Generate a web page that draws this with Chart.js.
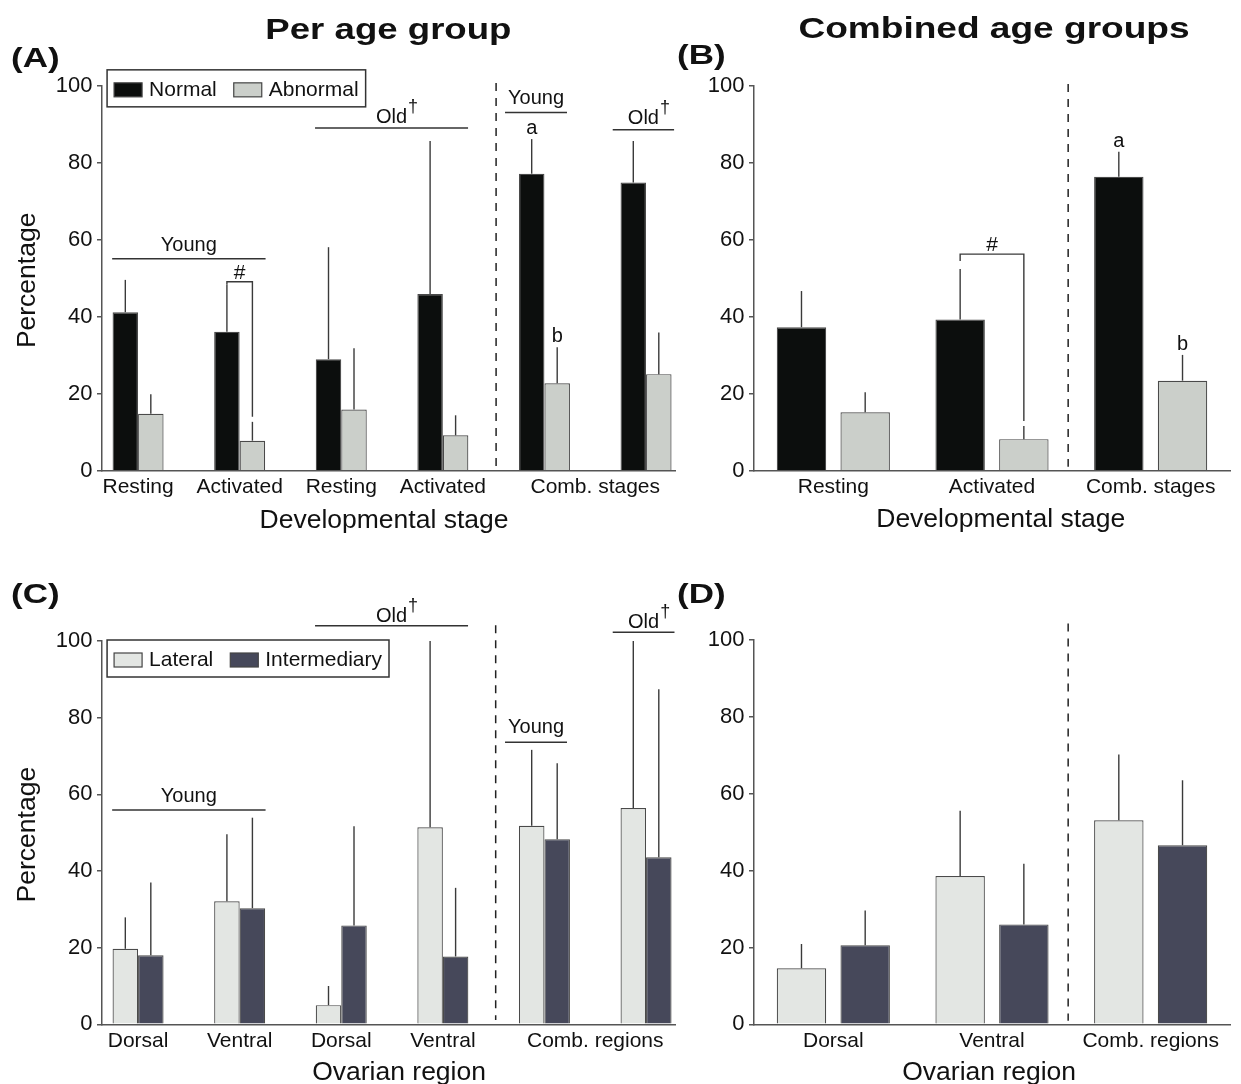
<!DOCTYPE html>
<html>
<head>
<meta charset="utf-8">
<script src="https://cdn.jsdelivr.net/npm/chart.js@4/dist/chart.umd.min.js"></script>
<style>
  html, body { margin: 0; padding: 0; background: #ffffff; }
  #wrap { position: relative; width: 1241px; height: 1084px; overflow: hidden; background: #ffffff; }
  canvas { position: absolute; }
</style>
</head>
<body>
<div id="wrap">
  <canvas id="cA" width="690" height="545" style="left:0px;top:0px;width:690px;height:545px"></canvas>
  <canvas id="cB" width="571" height="545" style="left:670px;top:0px;width:571px;height:545px"></canvas>
  <canvas id="cC" width="690" height="539" style="left:0px;top:545px;width:690px;height:539px"></canvas>
  <canvas id="cD" width="571" height="539" style="left:670px;top:545px;width:571px;height:539px"></canvas>
</div>
<script>
// ---------------- DATA ----------------
// Panel A: per age group, by developmental stage (Young: 0-1, Old: 2-3, combined stages: Young 4, Old 5)
const stageTickPosA = [0, 1, 2, 3, 4.5];
const stageTickLabelsA = ['Resting', 'Activated', 'Resting', 'Activated', 'Comb. stages'];
const groupPosA = [0, 1, 2, 3, 4, 5];
const normalA = [41.2, 36.1, 29.0, 45.9, 77.2, 74.9];
const normalErrA = [49.6, 48.4, 58.1, 85.7, 86.2, 85.7];
const abnormalA = [14.8, 7.8, 15.9, 9.2, 22.7, 25.1];
const abnormalErrA = [19.9, 12.7, 31.8, 14.4, 32.1, 35.9];

// Panel B: combined age groups, by developmental stage
const stageCatsB = ['Resting', 'Activated', 'Comb. stages'];
const normalB = [37.3, 39.3, 76.4];
const normalErrB = [46.7, 52.4, 82.9];
const abnormalB = [15.2, 8.2, 23.4];
const abnormalErrB = [20.4, 11.6, 30.1];

// Panel C: per age group, by ovarian region
const regionTickPosC = [0, 1, 2, 3, 4.5];
const regionTickLabelsC = ['Dorsal', 'Ventral', 'Dorsal', 'Ventral', 'Comb. regions'];
const groupPosC = [0, 1, 2, 3, 4, 5];
const lateralC = [19.7, 32.1, 5.0, 51.4, 51.8, 56.4];
const lateralErrC = [27.9, 49.6, 10.0, 100, 71.6, 100];
const interC = [18.0, 30.3, 25.8, 17.7, 48.3, 43.6];
const interErrC = [37.0, 53.9, 51.7, 35.6, 68.1, 87.4];

// Panel D: combined age groups, by ovarian region
const regionCatsD = ['Dorsal', 'Ventral', 'Comb. regions'];
const lateralD = [14.6, 38.6, 53.1];
const lateralErrD = [20.9, 55.6, 70.2];
const interD = [20.6, 26.0, 46.6];
const interErrD = [29.6, 41.8, 63.5];

const seriesNamesAB = ['Normal', 'Abnormal'];
const seriesNamesCD = ['Lateral', 'Intermediary'];

// ---------------- STYLE ----------------
const FONT = '"Liberation Sans", Arial, Helvetica, sans-serif';
const AXIS = '#555555';
const ERR = '#3a3a3a';
const TXT = '#111111';
const COL_NORMAL = '#0c0e0d';
const COL_ABNORMAL = '#cbcfca';
const COL_LATERAL = '#e3e6e3';
const COL_INTER = '#46485a';
const BAR_BORDER = '#4a4a4a';

Chart.defaults.font.family = FONT;
Chart.defaults.color = TXT;

function seg(ctx, x1, y1, x2, y2) {
  ctx.beginPath(); ctx.moveTo(x1, y1); ctx.lineTo(x2, y2); ctx.stroke();
}
function txt(ctx, s, x, y, size, align, bold, sx) {
  ctx.save();
  ctx.font = (bold ? 'bold ' : '') + size + 'px ' + FONT;
  ctx.textAlign = align || 'center';
  ctx.textBaseline = 'alphabetic';
  ctx.fillStyle = TXT;
  ctx.translate(x, y);
  if (sx) ctx.scale(sx, 1);
  ctx.fillText(s, 0, 0);
  ctx.restore();
}

function decor(cfg) {
  return {
    id: 'decor',
    afterDatasetsDraw(chart) {
      const { ctx, chartArea: ca, scales: { x, y } } = chart;
      const X = v => x.getPixelForValue(v);
      const Y = v => y.getPixelForValue(v);
      ctx.save();
      ctx.lineCap = 'butt';

      // error bars (upper whisker only)
      ctx.strokeStyle = ERR; ctx.lineWidth = 1.4;
      cfg.errTops.forEach((tops, di) => {
        chart.getDatasetMeta(di).data.forEach((bar, j) => {
          seg(ctx, bar.x, bar.y, bar.x, Y(tops[j]));
        });
      });

      // dashed separator
      if (cfg.sep) {
        ctx.save();
        ctx.strokeStyle = '#222'; ctx.lineWidth = 1.5; ctx.setLineDash([8, 7]);
        const sx = X(cfg.sep.x);
        seg(ctx, sx, Y(cfg.sep.from), sx, Y(cfg.sep.to));
        ctx.restore();
      }

      // age group labels with lines
      (cfg.groups || []).forEach(g => {
        const xl = X(g.from), xr = X(g.to), yl = Y(g.at);
        ctx.strokeStyle = '#333'; ctx.lineWidth = 1.5;
        seg(ctx, xl, yl, xr, yl);
        const cx = (xl + xr) / 2, by = yl - g.gap;
        txt(ctx, g.text, cx, by, 20, 'center');
        if (g.dagger) {
          ctx.font = '20px ' + FONT;
          const w = ctx.measureText(g.text).width;
          txt(ctx, '\u2020', cx + w / 2 + 1, by - 11.5, 18, 'left');
        }
      });

      // significance brackets
      (cfg.brackets || []).forEach(b => {
        const x1 = chart.getDatasetMeta(0).data[b.index].x;
        const x2 = chart.getDatasetMeta(1).data[b.index].x;
        const yb = Y(b.at);
        ctx.strokeStyle = ERR; ctx.lineWidth = 1.4;
        ctx.beginPath();
        ctx.moveTo(x1, Y(b.leftTo)); ctx.lineTo(x1, yb); ctx.lineTo(x2, yb); ctx.lineTo(x2, Y(b.rightTo));
        ctx.stroke();
        txt(ctx, b.text, (x1 + x2) / 2, yb - 3, 21, 'center');
      });

      // letters above error bars
      (cfg.letters || []).forEach(l => {
        const bar = chart.getDatasetMeta(l.ds).data[l.index];
        txt(ctx, l.text, bar.x, Y(cfg.errTops[l.ds][l.index]) - 5, 20, 'center');
      });

      // legend
      if (cfg.legend) {
        const L = cfg.legend;
        const left = X(L.x), top = Y(L.y);
        ctx.font = '21px ' + FONT;
        const ds = chart.data.datasets;
        const pad = 7, sw = 28, sh = 14, tg = 7, ig = 17, h = 37;
        let w = pad;
        ds.forEach((d, i) => { w += sw + tg + ctx.measureText(d.label).width + (i < ds.length - 1 ? ig : pad); });
        ctx.fillStyle = '#fff'; ctx.fillRect(left, top, w, h);
        ctx.lineWidth = 1.5; ctx.strokeStyle = '#333'; ctx.strokeRect(left, top, w, h);
        let cx = left + pad;
        ds.forEach(d => {
          ctx.fillStyle = d.backgroundColor; ctx.fillRect(cx, top + 13, sw, sh);
          ctx.lineWidth = 1.2; ctx.strokeStyle = '#444'; ctx.strokeRect(cx, top + 13, sw, sh);
          cx += sw + tg;
          txt(ctx, d.label, cx, top + 26, 21, 'left');
          ctx.font = '21px ' + FONT;
          cx += ctx.measureText(d.label).width + ig;
        });
      }

      // axis titles
      if (cfg.xTitle) {
        txt(ctx, cfg.xTitle.text, X(cfg.xTitle.at), ca.bottom + cfg.xTitle.dy, 26.5, 'center');
      }
      if (cfg.yTitle) {
        ctx.save();
        ctx.translate(ca.left + cfg.yTitle.dx, (ca.top + ca.bottom) / 2 + 2);
        ctx.rotate(-Math.PI / 2);
        txt(ctx, cfg.yTitle.text, 0, 0, 26.5, 'center');
        ctx.restore();
      }

      // panel titles / letters (bold, slightly expanded like the original)
      (cfg.texts || []).forEach(t => txt(ctx, t.text, t.x, t.y, t.size, t.align, true, t.sx));

      ctx.restore();
    }
  };
}

function yScale(w) {
  return {
    type: 'linear', min: 0, max: 100,
    ticks: { stepSize: 20, padding: 4.5, color: TXT, font: { size: 22, family: FONT } },
    grid: { display: true, drawOnChartArea: false, drawTicks: true, tickLength: 5, color: AXIS, lineWidth: 1.5 },
    border: { display: true, color: AXIS, width: 1.5 },
    afterFit: s => { s.width = w; }
  };
}
function xLinear(min, max, pos, labs, h) {
  return {
    type: 'linear', min, max, offset: false,
    afterBuildTicks: s => { s.ticks = pos.map(v => ({ value: v })); },
    ticks: { autoSkip: false, maxRotation: 0, minRotation: 0, padding: 4, color: TXT,
      font: { size: 21, family: FONT }, callback: v => labs[pos.indexOf(v)] },
    grid: { display: false, drawTicks: false, offset: false },
    border: { display: true, color: AXIS, width: 1.5 },
    afterFit: s => { s.height = h; }
  };
}
function xCat(h) {
  return {
    type: 'category', offset: true,
    ticks: { autoSkip: false, maxRotation: 0, minRotation: 0, padding: 4, color: TXT, font: { size: 21, family: FONT } },
    grid: { display: false, drawTicks: false, offset: true },
    border: { display: true, color: AXIS, width: 1.5 },
    afterFit: s => { s.height = h; }
  };
}
function barDs(label, data, color, catPct, barPct) {
  return { label, data, backgroundColor: color, borderColor: BAR_BORDER, borderWidth: 1.2,
    borderSkipped: 'start', categoryPercentage: catPct, barPercentage: barPct };
}
function baseOptions(padding, scales) {
  return {
    responsive: false, animation: false, devicePixelRatio: 1,
    layout: { padding },
    plugins: { legend: { display: false }, tooltip: { enabled: false } },
    scales
  };
}

// ---------------- PANEL A ----------------
new Chart(document.getElementById('cA'), {
  type: 'bar',
  data: {
    datasets: [
      barDs(seriesNamesAB[0], groupPosA.map((p, i) => ({ x: p, y: normalA[i] })), COL_NORMAL, 0.502, 1.0),
      barDs(seriesNamesAB[1], groupPosA.map((p, i) => ({ x: p, y: abnormalA[i] })), COL_ABNORMAL, 0.502, 1.0)
    ]
  },
  options: baseOptions({ top: 86, right: 15, left: 0, bottom: 0 }, {
    x: xLinear(-0.355, 5.285, stageTickPosA, stageTickLabelsA, 74.3),
    y: yScale(102)
  }),
  plugins: [decor({
    errTops: [normalErrA, abnormalErrA],
    sep: { x: 3.524, from: 100.8, to: 1.2 },
    groups: [
      { text: 'Young', from: -0.255, to: 1.255, at: 55.1, gap: 8 },
      { text: 'Old', dagger: true, from: 1.742, to: 3.248, at: 89.1, gap: 4.5 },
      { text: 'Young', from: 3.612, to: 4.222, at: 93.1, gap: 8.5 },
      { text: 'Old', dagger: true, from: 4.672, to: 5.276, at: 88.6, gap: 5.5 }
    ],
    brackets: [{ index: 1, at: 49.1, leftTo: 48.4, rightTo: 14.0, text: '#' }],
    letters: [{ ds: 0, index: 4, text: 'a' }, { ds: 1, index: 4, text: 'b' }],
    legend: { x: -0.305, y: 104.2 },
    xTitle: { text: 'Developmental stage', at: 2.421, dy: 57.6 },
    yTitle: { text: 'Percentage', dx: -67 },
    texts: [
      { text: 'Per age group', x: 388.4, y: 38.5, size: 30, align: 'center', sx: 1.22 },
      { text: '(A)', x: 11, y: 67, size: 28, align: 'left', sx: 1.25 }
    ]
  })]
});

// ---------------- PANEL B ----------------
new Chart(document.getElementById('cB'), {
  type: 'bar',
  data: {
    labels: stageCatsB,
    datasets: [
      barDs(seriesNamesAB[0], normalB, COL_NORMAL, 0.803, 0.776),
      barDs(seriesNamesAB[1], abnormalB, COL_ABNORMAL, 0.803, 0.776)
    ]
  },
  options: baseOptions({ top: 86, right: 11, left: 0, bottom: 0 }, {
    x: xCat(74.3),
    y: yScale(84)
  }),
  plugins: [decor({
    errTops: [normalErrB, abnormalErrB],
    sep: { x: 1.48, from: 100.5, to: 1 },
    brackets: [{ index: 1, at: 56.3, leftTo: 54.5, rightTo: 12.9, text: '#' }],
    letters: [{ ds: 0, index: 2, text: 'a' }, { ds: 1, index: 2, text: 'b' }],
    xTitle: { text: 'Developmental stage', at: 1.055, dy: 56.5 },
    texts: [
      { text: 'Combined age groups', x: 324, y: 38, size: 30, align: 'center', sx: 1.235 },
      { text: '(B)', x: 7, y: 64, size: 28, align: 'left', sx: 1.25 }
    ]
  })]
});

// ---------------- PANEL C ----------------
new Chart(document.getElementById('cC'), {
  type: 'bar',
  data: {
    datasets: [
      barDs(seriesNamesCD[0], groupPosC.map((p, i) => ({ x: p, y: lateralC[i] })), COL_LATERAL, 0.502, 1.0),
      barDs(seriesNamesCD[1], groupPosC.map((p, i) => ({ x: p, y: interC[i] })), COL_INTER, 0.502, 1.0)
    ]
  },
  options: baseOptions({ top: 96, right: 15, left: 0, bottom: 0 }, {
    x: xLinear(-0.355, 5.285, regionTickPosC, regionTickLabelsC, 59.7),
    y: yScale(102)
  }),
  plugins: [decor({
    errTops: [lateralErrC, interErrC],
    sep: { x: 3.52, from: 104.1, to: 1.1 },
    groups: [
      { text: 'Young', from: -0.255, to: 1.255, at: 55.9, gap: 8.3 },
      { text: 'Old', dagger: true, from: 1.742, to: 3.248, at: 104.0, gap: 3.5 },
      { text: 'Young', from: 3.612, to: 4.222, at: 73.6, gap: 9 },
      { text: 'Old', dagger: true, from: 4.672, to: 5.28, at: 102.3, gap: 4 }
    ],
    legend: { x: -0.305, y: 100.26 },
    xTitle: { text: 'Ovarian region', at: 2.569, dy: 55.7 },
    yTitle: { text: 'Percentage', dx: -67 },
    texts: [
      { text: '(C)', x: 11, y: 58, size: 28, align: 'left', sx: 1.25 }
    ]
  })]
});

// ---------------- PANEL D ----------------
new Chart(document.getElementById('cD'), {
  type: 'bar',
  data: {
    labels: regionCatsD,
    datasets: [
      barDs(seriesNamesCD[0], lateralD, COL_LATERAL, 0.803, 0.776),
      barDs(seriesNamesCD[1], interD, COL_INTER, 0.803, 0.776)
    ]
  },
  options: baseOptions({ top: 95, right: 11, left: 0, bottom: 0 }, {
    x: xCat(59.7),
    y: yScale(84)
  }),
  plugins: [decor({
    errTops: [lateralErrD, interErrD],
    sep: { x: 1.48, from: 104.3, to: 0.9 },
    xTitle: { text: 'Ovarian region', at: 0.982, dy: 55.7 },
    texts: [
      { text: '(D)', x: 7, y: 57.5, size: 28, align: 'left', sx: 1.25 }
    ]
  })]
});
</script>
</body>
</html>
